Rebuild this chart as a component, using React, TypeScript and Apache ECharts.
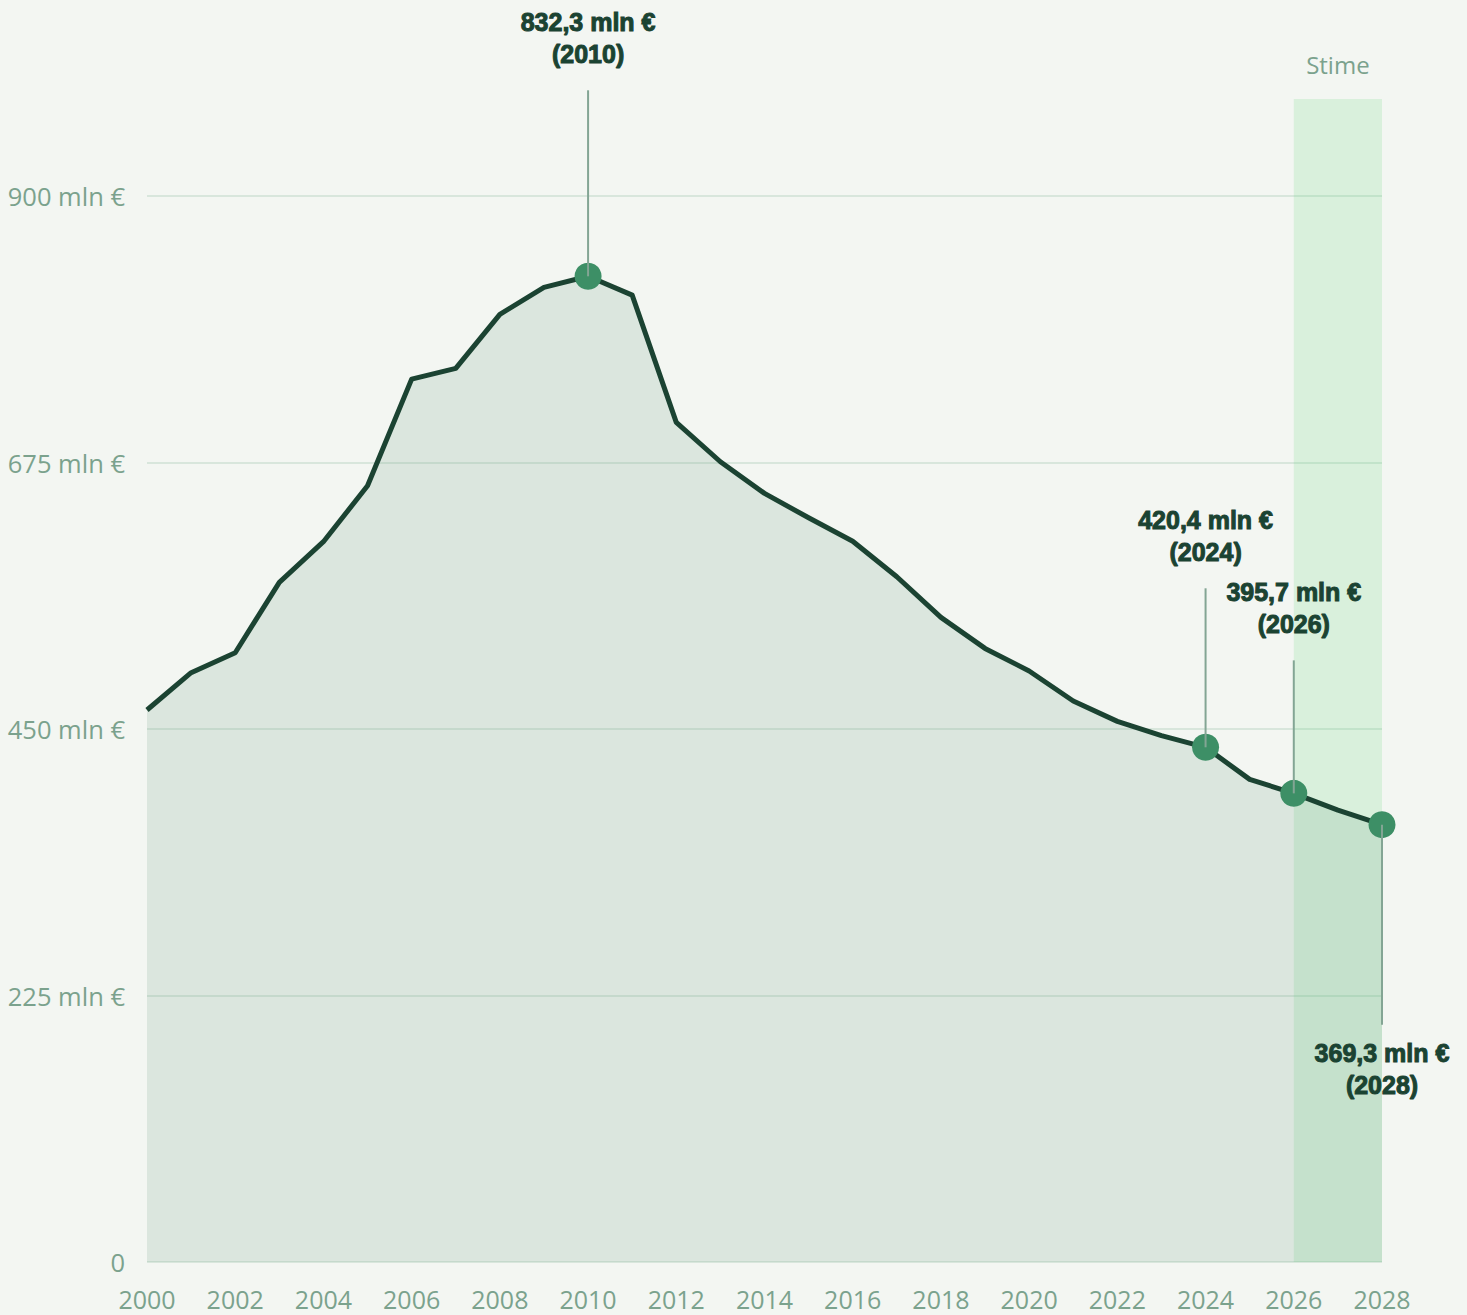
import React, { useEffect, useRef } from "react";
import * as echarts from "echarts";

const years = [
  "2000", "2001", "2002", "2003", "2004", "2005", "2006", "2007", "2008", "2009",
  "2010", "2011", "2012", "2013", "2014", "2015", "2016", "2017", "2018", "2019",
  "2020", "2021", "2022", "2023", "2024", "2025", "2026", "2027", "2028",
];

const values = [
  466.1, 497.6, 514.4, 573.9, 608.2, 655.4, 745.5, 754.6, 800.2, 823.0,
  832.3, 816.4, 709.0, 675.7, 649.0, 628.4, 608.6, 578.6, 544.3, 518.1,
  499.0, 473.7, 456.5, 444.4, 434.6, 407.5, 395.7, 381.6, 369.3,
];

const yTicks = [0, 225, 450, 675, 900];
const estimateStart = "2026";
const estimateEnd = "2028";
const estimateLabel = "Stime";

const highlightYears = ["2010", "2024", "2026", "2028"];
const highlightLabels = [
  "832,3 mln €\n(2010)",
  "420,4 mln €\n(2024)",
  "395,7 mln €\n(2026)",
  "369,3 mln €\n(2028)",
];
// leader length in px (negative = upwards)
const leaderLengths = [-186, -159, -133, 200];

const BG = "#f3f6f2";
const AXIS_TEXT = "#7ba28d";
const GRID = "#cfe1d5";
const LINE = "#1b4332";
const DOT = "#3d8f66";
const LEADER = "#83a594";
const LABEL = "#1b4332";

export default function App() {
  const ref = useRef<HTMLDivElement>(null);

  useEffect(() => {
    if (!ref.current) return;
    const chart = echarts.init(ref.current, null, { renderer: "svg" });

    const option: any = {
      animation: false,
      backgroundColor: BG,
      grid: { left: 147, right: 85, top: 99, bottom: 53, containLabel: false },
      xAxis: {
        type: "category",
        data: years,
        boundaryGap: false,
        axisLine: { show: false },
        axisTick: { show: false },
        axisLabel: {
          interval: 1,
          color: AXIS_TEXT,
          fontFamily: "Open Sans",
          fontSize: 25,
          margin: 24,
        },
        splitLine: { show: false },
      },
      yAxis: {
        type: "value",
        min: 0,
        max: 982,
        interval: 225,
        axisLine: { show: false },
        axisTick: { show: false },
        axisLabel: {
          color: AXIS_TEXT,
          fontFamily: "Open Sans",
          fontSize: 25.5,
          margin: 22,
          showMaxLabel: false,
          formatter: (v: number) =>
            yTicks.indexOf(v) < 0 ? "" : v === 0 ? "0" : `${v} mln €`,
        },
        splitLine: {
          show: true,
          showMaxLine: false,
          lineStyle: { color: GRID, width: 1.5 },
        },
      },
      series: [
        {
          type: "line",
          data: values,
          symbol: "none",
          z: 3,
          lineStyle: { color: LINE, width: 5, join: "round" },
          areaStyle: { color: "rgba(108,161,132,0.25)", origin: "start" },
          markArea: {
            silent: true,
            itemStyle: { color: "rgba(90,216,112,0.17)" },
            label: {
              show: true,
              position: "top",
              distance: 23,
              color: AXIS_TEXT,
              fontFamily: "Open Sans",
              fontSize: 24,
              formatter: estimateLabel,
            },
            data: [[{ xAxis: estimateStart }, { xAxis: estimateEnd }]],
          },
        },
        {
          type: "scatter",
          z: 4,
          symbolSize: 27,
          itemStyle: { color: DOT, opacity: 1 },
          data: highlightYears.map((y) => [y, values[years.indexOf(y)]]),
        },
      ],
    };

    chart.setOption(option);

    const graphics: any[] = [];
    highlightYears.forEach((y, i) => {
      const idx = years.indexOf(y);
      const p = chart.convertToPixel({ gridIndex: 0 }, [idx, values[idx]]) as number[];
      const len = leaderLengths[i];
      const endY = p[1] + len;
      graphics.push({
        type: "line",
        z: 100,
        shape: { x1: p[0], y1: p[1], x2: p[0], y2: endY },
        style: { stroke: LEADER, lineWidth: 2 },
      });
      graphics.push({
        type: "text",
        z: 100,
        x: p[0],
        y: len < 0 ? endY - 20 : endY + 12,
        style: {
          text: highlightLabels[i],
          fontFamily: "'Liberation Sans', Arial, sans-serif",
          fontWeight: "bold",
          fontSize: 25,
          lineHeight: 32,
          fill: LABEL,
          stroke: LABEL,
          lineWidth: 1,
          align: "center",
          verticalAlign: len < 0 ? "bottom" : "top",
        },
      });
    });
    chart.setOption({ graphic: graphics });

    return () => chart.dispose();
  }, []);

  return (
    <div
      ref={ref}
      style={{ position: "fixed", left: 0, top: 0, width: 1467, height: 1315, background: BG }}
    />
  );
}
